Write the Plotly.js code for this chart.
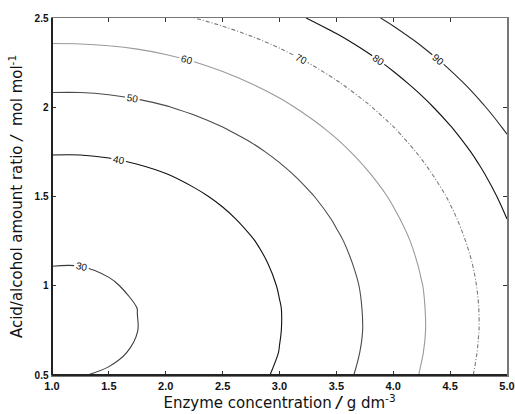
<!DOCTYPE html>
<html>
<head>
<meta charset="utf-8">
<script src="https://cdn.plot.ly/plotly-3.0.1.min.js"></script>
<style>html,body{margin:0;padding:0;background:#fff;}#chart{width:515px;height:414px;}</style>
</head>
<body>
<div id="chart"></div>
<script>
// Enzyme concentration (g dm-3)
var enzyme = [1.0,1.25,1.5,1.75,2.0,2.25,2.5,2.75,3.0,3.25,3.5,3.75,4.0,4.25,4.5,4.75,5.0];
// Acid/alcohol amount ratio (mol mol-1)
var ratio = [0.5,0.625,0.75,0.875,1.0,1.125,1.25,1.375,1.5,1.625,1.75,1.875,2.0,2.125,2.25,2.375,2.5];
// Response values (rows = ratio, columns = enzyme)
var response = [
 [29.9,29.9,30.3,31.1,32.3,33.9,35.8,38.2,40.9,44.0,47.6,51.5,55.8,60.5,65.6,71.0,76.9],
 [29.1,29.1,29.5,30.3,31.5,33.1,35.0,37.4,40.1,43.3,46.8,50.7,55.0,59.7,64.8,70.3,76.1],
 [28.8,28.8,29.2,29.97,31.2,32.7,34.7,37.0,39.8,42.9,46.4,50.3,54.7,59.3,64.4,69.9,75.8],
 [28.8,28.8,29.2,30.01,31.2,32.8,34.7,37.1,39.8,43.0,46.5,50.4,54.7,59.4,64.5,69.95,75.8],
 [29.3,29.3,29.7,30.5,31.6,33.2,35.2,37.5,40.3,43.4,46.9,50.8,55.1,59.8,64.9,70.4,76.3],
 [30.1,30.1,30.5,31.3,32.5,34.1,36.0,38.4,41.1,44.2,47.8,51.7,56.03,60.7,65.8,71.2,77.1],
 [31.4,31.4,31.8,32.6,33.7,35.3,37.3,39.6,42.4,45.5,49.03,52.9,57.2,61.9,67.03,72.5,78.4],
 [33.03,33.03,33.4,34.2,35.4,36.96,38.9,41.3,44.03,47.1,50.7,54.6,58.9,63.6,68.7,74.1,80.01],
 [35.1,35.1,35.5,36.3,37.4,39.01,40.97,43.3,46.1,49.2,52.7,56.6,60.9,65.6,70.7,76.2,82.1],
 [37.5,37.5,37.9,38.7,39.9,41.5,43.4,45.8,48.5,51.7,55.2,59.1,63.4,68.1,73.2,78.7,84.5],
 [40.4,40.4,40.8,41.6,42.8,44.3,46.3,48.6,51.4,54.5,58.04,61.96,66.3,70.96,76.04,81.5,87.4],
 [43.7,43.7,44.1,44.8,46.03,47.6,49.6,51.9,54.7,57.8,61.3,65.2,69.5,74.2,79.3,84.8,90.7],
 [47.3,47.3,47.7,48.5,49.7,51.3,53.2,55.6,58.3,61.5,64.98,68.9,73.2,77.9,82.98,88.5,94.3],
 [51.4,51.4,51.8,52.6,53.8,55.3,57.3,59.7,62.4,65.5,69.05,72.96,77.3,81.96,87.05,92.5,98.4],
 [55.9,55.9,56.3,57.1,58.2,59.8,61.8,64.1,66.9,70.01,73.5,77.4,81.7,86.4,91.5,97.01,102.9],
 [60.7,60.8,61.2,61.9,63.1,64.7,66.7,69.003,71.7,74.9,78.4,82.3,86.6,91.3,96.4,101.9,107.7],
 [66.0,66.0,66.4,67.2,68.4,69.97,71.9,74.3,77.03,80.2,83.7,87.6,91.9,96.6,101.7,107.2,113.03]
];
// Contour levels and their drawing style
var levels = [30,40,50,60,70,80,90];
var lineColors = ['#3a3a3a','#111111','#4a4a4a','#9a9a9a','#7a7a7a','#111111','#2a2a2a'];
var lineDashes = ['solid','solid','solid','solid','4px,2px,1px,2px','solid','solid'];

var traces = levels.map(function(L, i){
  return {
    type: 'contour',
    x: enzyme, y: ratio, z: response,
    autocontour: false,
    contours: {start: L, end: L, size: 10, coloring: 'none', showlabels: true,
               labelfont: {family: 'Liberation Sans, Arial, sans-serif', size: 10, color: '#111'}},
    line: {color: lineColors[i], width: 1.1, dash: lineDashes[i], smoothing: 1},
    showscale: false, hoverinfo: 'skip'
  };
});

var layout = {
  width: 515, height: 414,
  margin: {l: 52, r: 8, t: 18, b: 39},
  paper_bgcolor: '#fff', plot_bgcolor: '#fff',
  showlegend: false,
  font: {family: 'Liberation Sans, Arial, sans-serif', color: '#111'},
  xaxis: {
    range: [1.0, 5.0], tickvals: [1,1.5,2,2.5,3,3.5,4,4.5,5],
    ticktext: ['<b>1.0</b>','<b>1.5</b>','<b>2.0</b>','<b>2.5</b>','<b>3.0</b>','<b>3.5</b>','<b>4.0</b>','<b>4.5</b>','<b>5.0</b>'],
    ticks: 'inside', ticklen: 4, tickcolor: '#333', tickwidth: 1,
    showline: true, mirror: 'ticks', linecolor: '#777', linewidth: 1.5,
    showgrid: false, zeroline: false, ticklabeloverflow: 'allow',
    tickfont: {size: 11, color: '#111'},
    title: {text: 'Enzyme concentration <b><i>/</i></b> g dm<sup>-3</sup>', font: {family: 'DejaVu Sans, sans-serif', size: 15, color: '#111'}, standoff: 3}
  },
  yaxis: {
    range: [0.5, 2.5], tickvals: [0.5,1,1.5,2,2.5],
    ticktext: ['<b>0.5</b>','<b>1</b>','<b>1.5</b>','<b>2</b>','<b>2.5</b>'],
    ticks: 'inside', ticklen: 4, tickcolor: '#333', tickwidth: 1,
    showline: true, mirror: 'ticks', linecolor: '#777', linewidth: 1.5,
    showgrid: false, zeroline: false, ticklabeloverflow: 'allow',
    tickfont: {size: 10, color: '#111'},
    title: {text: 'Acid/alcohol amount ratio <i>/</i>  mol mol<sup>-1</sup>', font: {family: 'DejaVu Sans, sans-serif', size: 15, color: '#111'}, standoff: 8}
  },
  shapes: [
    {type: 'line', xref: 'paper', yref: 'paper', x0: 0, x1: 0, y0: 0, y1: 1, line: {color: '#222', width: 2}},
    {type: 'line', xref: 'paper', yref: 'paper', x0: 0, x1: 1, y0: 0, y1: 0, line: {color: '#222', width: 2}}
  ]
};

Plotly.newPlot('chart', traces, layout, {displayModeBar: false, staticPlot: true});
</script>
</body>
</html>
